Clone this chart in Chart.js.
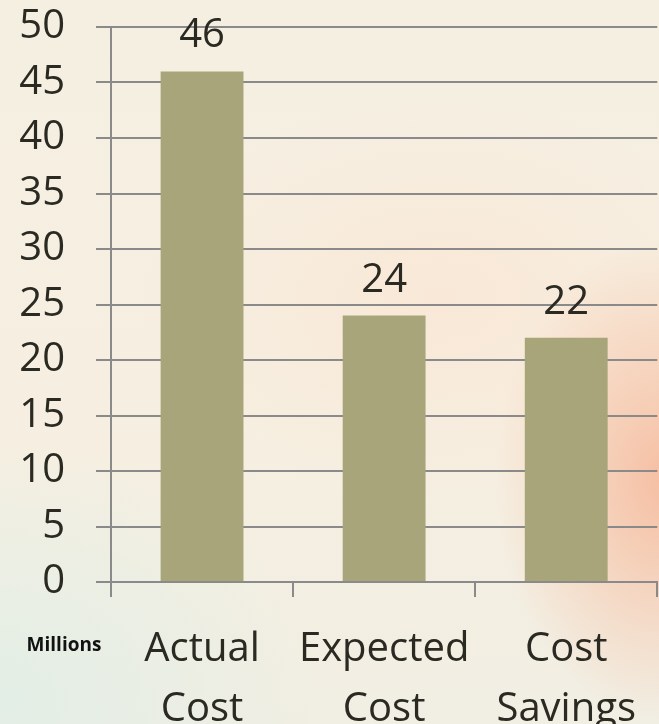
<!DOCTYPE html>
<html>
<head>
<meta charset="utf-8">
<script src="https://cdn.jsdelivr.net/npm/chart.js@4"></script>
<style>
  html, body { margin: 0; padding: 0; }
  #wrap {
    position: relative;
    width: 659px;
    height: 724px;
    background:
      radial-gradient(ellipse 170px 240px at 665px 480px, rgba(246, 185, 155, 0.9), rgba(246, 185, 155, 0) 100%),
      radial-gradient(ellipse 320px 260px at 0px 700px, rgba(225, 238, 230, 0.9), rgba(225, 238, 230, 0) 100%),
      radial-gradient(ellipse 300px 200px at 440px 300px, rgba(250, 230, 212, 0.8), rgba(250, 230, 212, 0) 100%),
      linear-gradient(180deg, #f5efe2 0%, #f6efe1 60%, #f1eee3 100%);
  }
</style>
</head>
<body>
<div id="wrap"><canvas id="myBarChart" width="659" height="724"></canvas></div>
<script>
const categories = [['Actual', 'Cost'], ['Expected', 'Cost'], ['Cost', 'Savings']];
const values = [46, 24, 22];
const yTicks = [0, 5, 10, 15, 20, 25, 30, 35, 40, 45, 50];
const unitLabel = 'Millions';

const textColor = '#2b2a22';
const gridColor = '#8a8a8a';

// draws the value above each bar and the units label at the bottom left
const valueLabels = {
    id: 'valueLabels',
    afterDatasetsDraw(chart) {
        const ctx = chart.ctx;
        const meta = chart.getDatasetMeta(0);
        ctx.save();
        ctx.fillStyle = textColor;
        ctx.font = '40px "Open Sans"';
        ctx.textAlign = 'center';
        ctx.textBaseline = 'alphabetic';
        meta.data.forEach((bar, i) => {
            ctx.fillText(values[i], bar.x, bar.y - 24);
        });
        ctx.fillStyle = '#111';
        ctx.font = 'bold 19px "Open Sans"';
        ctx.fillText(unitLabel, 64, 651);
        ctx.restore();
    }
};

const ctx = document.getElementById('myBarChart').getContext('2d');
new Chart(ctx, {
    type: 'bar',
    data: {
        labels: categories,
        datasets: [{
            data: values,
            backgroundColor: '#a8a57a',
            borderWidth: 0,
            categoryPercentage: 1,
            barPercentage: 0.455
        }]
    },
    options: {
        responsive: false,
        animation: false,
        layout: { padding: 0 },
        plugins: {
            legend: { display: false },
            tooltip: { enabled: false }
        },
        scales: {
            y: {
                min: 0,
                max: 50,
                afterFit: (scale) => {
                    scale.width = 111;
                    scale.paddingTop = 27;
                },
                afterBuildTicks: (scale) => { scale.ticks = yTicks.map(v => ({ value: v })); },
                border: { color: gridColor, width: 2 },
                grid: { color: gridColor, lineWidth: 2, tickLength: 15 },
                ticks: {
                    color: textColor,
                    font: { family: 'Open Sans', size: 40 },
                    padding: 31,
                    autoSkip: false
                }
            },
            x: {
                afterFit: (scale) => { scale.height = 142; },
                border: { color: gridColor, width: 2 },
                grid: { display: true, drawOnChartArea: false, color: gridColor, lineWidth: 2, tickLength: 15 },
                ticks: {
                    color: textColor,
                    font: { family: 'Open Sans', size: 40, lineHeight: 1.5 },
                    padding: 23,
                    maxRotation: 0
                }
            }
        }
    },
    plugins: [valueLabels]
});
</script>
</body>
</html>
